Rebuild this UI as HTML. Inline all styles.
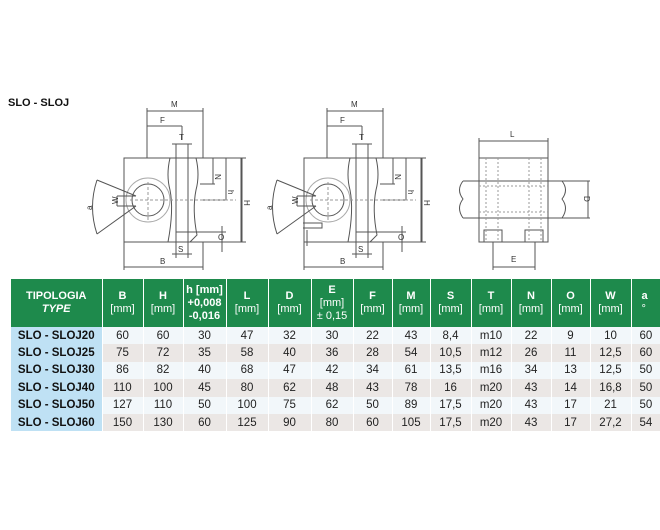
<!DOCTYPE html>
<html><head><meta charset="utf-8"><style>
body{margin:0;width:660px;height:530px;background:#fff;position:relative;font-family:"Liberation Sans",sans-serif;overflow:hidden}
.t{position:absolute;left:8px;top:97px;font-weight:bold;font-size:11px;color:#111}
svg{position:absolute;left:0;top:0}
table{position:absolute;left:11px;top:279px;border-collapse:collapse;font-size:11.5px;font-family:"Liberation Sans Narrow","Liberation Sans",sans-serif;table-layout:fixed;width:660px}
th{background:#1e8a4c;color:#fff;font-weight:bold;height:48px;border-right:1px solid #fff;font-size:11px;line-height:13px;padding:0}
th span{font-weight:normal}
td{height:17.4px;padding:0;text-align:center;color:#222;border-right:1px solid #fff}
td.l{background:#bfe1f4;font-weight:bold;color:#111}
tr.a td{background:#f2f7fa}tr.b td{background:#ebe7e5}
tr.a td.l,tr.b td.l{background:#bfe1f4}
</style></head><body>
<div class="t">SLO - SLOJ</div>
<svg width="660" height="280" stroke="#555" fill="none" stroke-width="1" font-family="Liberation Sans" font-size="8">
<g id="d1">
<rect x="124" y="158" width="118" height="84"/>
<circle cx="148" cy="200" r="16"/><circle cx="148" cy="200" r="22" stroke="#aaa"/>
<path d="M97 180 L136 196 M97 234 L136 206 M97 180 Q88 207 97 234" />
<path d="M117 196 H136 M117 206 H136 M117 196 V206"/>
<path d="M170 158 Q166 175 170 190 Q174 210 168 242 M196 158 Q200 175 196 190 Q192 210 197 235 L190 242"/>
<path d="M176 144 V242 M188 144 V242 M172 144 H192" />
<path d="M147 158 V108 M203 158 V108 M147 111 H203 M147 126 H182 M182 126 V140"/>
<path d="M124 242 V270 M203 242 V270 M124 267 H203 M176 242 V258 M188 242 V258 M172 254 H192"/>
<path d="M242 158 H246 M241 158 V242 M200 184 H215 M213 158 V184 M200 200 H228 M226 158 V200 M242 242 H246 M176 232 H226 M222 226 V252"/>
<path d="M148 182 V220 M130 200 H236" stroke="#999" stroke-dasharray="3,2"/>
<g fill="#333" stroke="none"><text x="171" y="107">M</text><text x="160" y="123">F</text><text x="179" y="140">T</text><text x="160" y="264">B</text><text x="178" y="252">S</text>
<text x="215" y="174" transform="rotate(90 215 174)">N</text><text x="228" y="190" transform="rotate(90 228 190)">h</text><text x="244" y="200" transform="rotate(90 244 200)">H</text><text x="218" y="240">O</text><text x="118" y="204" transform="rotate(-90 118 204)">W</text><text x="92" y="210" transform="rotate(-90 92 210)">a</text></g>
</g>
<use href="#d1" x="180"/>
<path d="M303 223 H322 V228 H303 M307 230 V246" />
<rect x="479" y="158" width="69" height="84"/>
<path d="M463 181 H562 M463 218 H562 M463 181 Q456 190 463 199 Q456 208 463 218 M562 181 Q569 190 562 199 Q569 208 562 218"/>
<rect x="484" y="230" width="18" height="12"/><rect x="525" y="230" width="18" height="12"/>
<path d="M486 158 V242 M498 158 V242 M529 158 V242 M541 158 V242 M479 186 H548 M479 212 H548" stroke="#999" stroke-dasharray="2,2"/>
<path d="M479 158 V138 M548 158 V138 M479 141 H548 M493 242 V270 M535 242 V270 M493 267 H535 M562 181 H590 M562 218 H590 M588 181 V218"/>
<g fill="#333" stroke="none"><text x="510" y="137">L</text><text x="511" y="262">E</text><text x="584" y="196" transform="rotate(90 584 196)">D</text></g>
</svg>
<table>
<colgroup><col style="width:91px"><col style="width:41px"><col style="width:40px"><col style="width:43px"><col style="width:42px"><col style="width:43px"><col style="width:42px"><col style="width:39px"><col style="width:38px"><col style="width:41px"><col style="width:40px"><col style="width:40px"><col style="width:39px"><col style="width:41px"><col style="width:40px"></colgroup>
<tr><th>TIPOLOGIA<br><i>TYPE</i></th><th>B<br><span>[mm]</span></th><th>H<br><span>[mm]</span></th><th>h [mm]<br>+0,008<br>-0,016</th><th>L<br><span>[mm]</span></th><th>D<br><span>[mm]</span></th><th>E<br><span>[mm]<br>± 0,15</span></th><th>F<br><span>[mm]</span></th><th>M<br><span>[mm]</span></th><th>S<br><span>[mm]</span></th><th>T<br><span>[mm]</span></th><th>N<br><span>[mm]</span></th><th>O<br><span>[mm]</span></th><th>W<br><span>[mm]</span></th><th style="text-align:left;padding-left:10px">a<br><span>°</span></th></tr>
<tr class="a"><td class="l">SLO - SLOJ20</td><td>60</td><td>60</td><td>30</td><td>47</td><td>32</td><td>30</td><td>22</td><td>43</td><td>8,4</td><td>m10</td><td>22</td><td>9</td><td>10</td><td style="text-align:left;padding-left:8px">60</td></tr>
<tr class="b"><td class="l">SLO - SLOJ25</td><td>75</td><td>72</td><td>35</td><td>58</td><td>40</td><td>36</td><td>28</td><td>54</td><td>10,5</td><td>m12</td><td>26</td><td>11</td><td>12,5</td><td style="text-align:left;padding-left:8px">60</td></tr>
<tr class="a"><td class="l">SLO - SLOJ30</td><td>86</td><td>82</td><td>40</td><td>68</td><td>47</td><td>42</td><td>34</td><td>61</td><td>13,5</td><td>m16</td><td>34</td><td>13</td><td>12,5</td><td style="text-align:left;padding-left:8px">50</td></tr>
<tr class="b"><td class="l">SLO - SLOJ40</td><td>110</td><td>100</td><td>45</td><td>80</td><td>62</td><td>48</td><td>43</td><td>78</td><td>16</td><td>m20</td><td>43</td><td>14</td><td>16,8</td><td style="text-align:left;padding-left:8px">50</td></tr>
<tr class="a"><td class="l">SLO - SLOJ50</td><td>127</td><td>110</td><td>50</td><td>100</td><td>75</td><td>62</td><td>50</td><td>89</td><td>17,5</td><td>m20</td><td>43</td><td>17</td><td>21</td><td style="text-align:left;padding-left:8px">50</td></tr>
<tr class="b"><td class="l">SLO - SLOJ60</td><td>150</td><td>130</td><td>60</td><td>125</td><td>90</td><td>80</td><td>60</td><td>105</td><td>17,5</td><td>m20</td><td>43</td><td>17</td><td>27,2</td><td style="text-align:left;padding-left:8px">54</td></tr>
</table>
</body></html>
